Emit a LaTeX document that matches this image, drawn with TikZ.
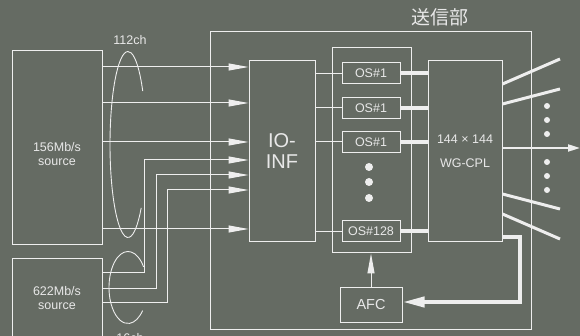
\documentclass[tikz,border=0pt]{standalone}
\usepackage{fontspec}
\setmainfont{Liberation Sans}
\newfontfamily\cjkfont{Noto Sans CJK JP}
\usetikzlibrary{arrows.meta}
\definecolor{bgc}{RGB}{101,107,99}
\definecolor{lnc}{RGB}{238,238,238}
\definecolor{txc}{RGB}{232,232,232}
\begin{document}
\begin{tikzpicture}[x=1pt,y=-1pt,
  box/.style={draw=lnc, line width=1pt, inner sep=0pt, text=txc, font=\fontsize{12.5}{14}\selectfont},
  lbl/.style={text=txc, inner sep=0pt, font=\fontsize{12.5}{14}\selectfont, align=center},
  thin/.style={draw=lnc, line width=1pt},
  inarr/.style={draw=lnc, line width=1pt, -{Triangle[length=20pt,width=7pt]}},
  thickl/.style={draw=lnc, line width=4pt},
  outl/.style={draw=lnc, line width=3pt},
  ell/.style={draw=lnc, line width=0.9pt},
  dot/.style={fill=lnc}]
\fill[bgc] (0,0) rectangle (580,336);
\useasboundingbox (0,0) rectangle (580,336);

% boxes
\node[box, minimum width=90pt, minimum height=194pt] (s156) at (57,148) {};
\node[lbl] (t156) at (57,154) {156Mb/s\\source};
\node[box, minimum width=90pt, minimum height=91pt] (s622) at (57,304.5) {};
\node[lbl] (t622) at (57,298) {622Mb/s\\source};
\node[box, minimum width=321pt, minimum height=297pt] (tx) at (370.5,180.5) {};
\node[text=txc, inner sep=0pt, font=\cjkfont\fontsize{19}{20}\selectfont] (hdr) at (440,17) {送信部};
\node[box, minimum width=66pt, minimum height=181pt, align=center, font=\fontsize{20}{21}\selectfont] (io) at (282,151.5) {IO-\\INF};
\node[box, minimum width=79pt, minimum height=205pt] (grp) at (371.5,150.5) {};
\node[box, minimum width=58pt, minimum height=21pt] (os1) at (371,73.5) {OS\#1};
\node[box, minimum width=58pt, minimum height=21pt] (os2) at (371,108) {OS\#1};
\node[box, minimum width=58pt, minimum height=21pt] (os3) at (371,142) {OS\#1};
\node[box, minimum width=58pt, minimum height=21pt] (os4) at (371,231.5) {OS\#128};
\node[box, minimum width=74pt, minimum height=181pt, align=center, font=\fontsize{12.5}{24}\selectfont] (wg) at (465,151.5) {144 × 144\\WG-CPL};
\node[box, minimum width=62pt, minimum height=35pt, font=\fontsize{14.5}{16}\selectfont] (afc) at (371,304.5) {AFC};
\node[lbl] (l112) at (130,40) {112ch};
\node[lbl] (l16) at (130,338) {16ch};

% helper coordinates
\coordinate (ya) at (0,67);
\coordinate (yb) at (0,103);
\coordinate (yc) at (0,142);
\coordinate (yd) at (0,229);
\coordinate (ye) at (0,160);
\coordinate (yf) at (0,175);
\coordinate (yg) at (0,190);
\coordinate (ca) at (144,273);
\coordinate (cb) at (156,288);
\coordinate (cc) at (167,302);

% inputs from 156 source
\draw[inarr] (s156.east |- ya) -- (io.west |- ya);
\draw[inarr] (s156.east |- yb) -- (io.west |- yb);
\draw[inarr] (s156.east |- yc) -- (io.west |- yc);
\draw[inarr] (s156.east |- yd) -- (io.west |- yd);
% inputs from 622 source
\draw[inarr] (s622.east |- ca) -- (ca) |- (io.west |- ye);
\draw[inarr] (s622.east |- cb) -- (cb) |- (io.west |- yf);
\draw[inarr] (s622.east |- cc) -- (cc) |- (io.west |- yg);

% bundles
\coordinate (e1) at (128,144.5);
\coordinate (e2) at (128,287.5);
\draw[ell] ([shift={(-35:18 and 93)}]e1) arc[start angle=-35, end angle=-317, x radius=18, y radius=93];
\draw[ell] ([shift={(-35:19 and 36)}]e2) arc[start angle=-35, end angle=-320, x radius=19, y radius=36];

% IO-INF to OS
\draw[thin] (io.east |- os1) -- (os1.west);
\draw[thin] (io.east |- os2) -- (os2.west);
\draw[thin] (io.east |- os3) -- (os3.west);
\draw[thin] (io.east |- os4) -- (os4.west);
% OS to WG
\draw[thickl] (os1.east) -- (wg.west |- os1);
\draw[thickl] (os2.east) -- (wg.west |- os2);
\draw[thickl] (os3.east) -- (wg.west |- os3);
\draw[thickl] (os4.east) -- (wg.west |- os4);

% dots
\fill[dot] (369,167) circle[radius=4];
\fill[dot] (369,182) circle[radius=4];
\fill[dot] (369,198) circle[radius=4];
\foreach \yy in {106,120,134,162,176,190} \fill[dot] (547,\yy) circle[radius=3];

% outputs
\coordinate (p1) at (0,84);   \coordinate (q1) at (560,59);
\coordinate (p2) at (0,104);  \coordinate (q2) at (560,89);
\coordinate (p3) at (0,194);  \coordinate (q3) at (560,209);
\coordinate (p4) at (0,214);  \coordinate (q4) at (560,239);
\coordinate (p5) at (0,148);  \coordinate (q5) at (580,148);
\draw[outl] (wg.east |- p1) -- (q1);
\draw[outl] (wg.east |- p2) -- (q2);
\draw[outl] (wg.east |- p3) -- (q3);
\draw[outl] (wg.east |- p4) -- (q4);
\draw[draw=lnc, line width=2pt, -{Triangle[length=12pt,width=7pt]}] (wg.east |- p5) -- (q5);

% feedback
\coordinate (fb) at (0,237);
\coordinate (fbc) at (520,302);
\draw[thickl, -{Triangle[length=22pt,width=10pt]}] (wg.east |- fb) -| (fbc) -- (afc.east |- fbc);
\draw[inarr] (afc.north) -- (afc.north |- grp.south);
\end{tikzpicture}
\end{document}
